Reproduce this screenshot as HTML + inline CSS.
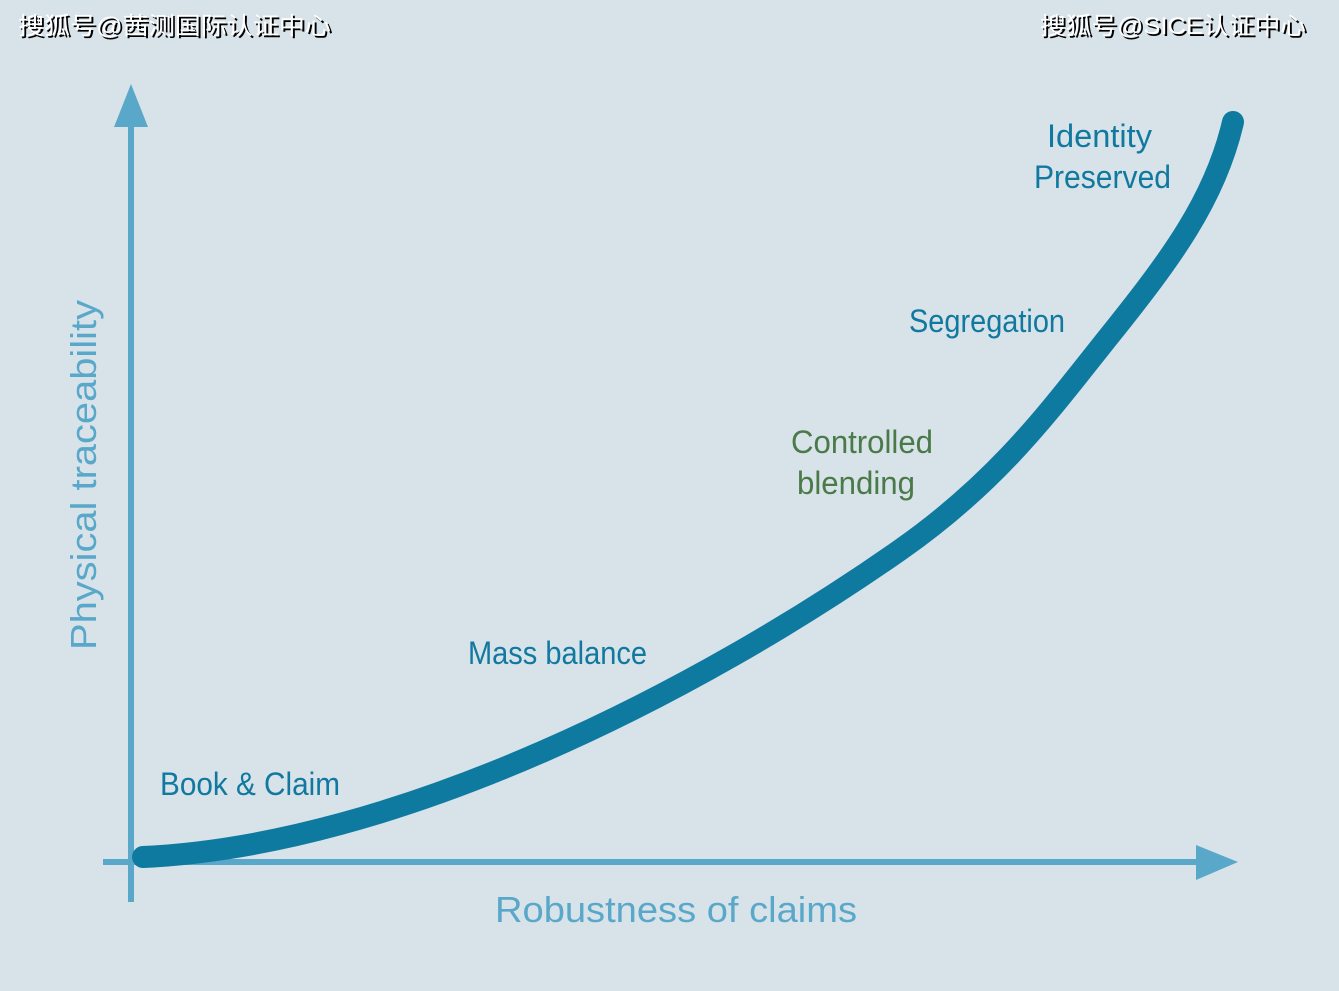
<!DOCTYPE html>
<html><head><meta charset="utf-8"><style>
html,body{margin:0;padding:0;background:#d7e2e9;}
svg{display:block}
.lbl{font-family:"Liberation Sans Narrow","Liberation Sans",sans-serif;font-size:32px;fill:#11799f;}
.wm{font-family:"Liberation Sans","Noto Sans CJK SC",sans-serif;font-size:24px;fill:#fff;}
</style></head><body>
<svg width="1339" height="991" viewBox="0 0 1339 991" xmlns="http://www.w3.org/2000/svg">
<rect width="1339" height="991" fill="#d7e2e9"/>
<g font-family="Liberation Sans, Noto Sans CJK SC, sans-serif">
<text class="wm" x="20" y="36" textLength="313" lengthAdjust="spacingAndGlyphs" style="fill:#000">搜狐号@茜测国际认证中心</text>
<text class="wm" x="18" y="34" textLength="313" lengthAdjust="spacingAndGlyphs">搜狐号@茜测国际认证中心</text>
<text class="wm" x="1042" y="36" textLength="266" lengthAdjust="spacingAndGlyphs" style="fill:#000">搜狐号@SICE认证中心</text>
<text class="wm" x="1040" y="34" textLength="266" lengthAdjust="spacingAndGlyphs">搜狐号@SICE认证中心</text>
</g>
<line x1="131" y1="902" x2="131" y2="120" stroke="#5aa8c9" stroke-width="6"/>
<polygon points="131,84 114,127 148,127" fill="#5aa8c9"/>
<line x1="103" y1="862" x2="1205" y2="862" stroke="#5aa8c9" stroke-width="6"/>
<polygon points="1238,862 1196,845 1196,880" fill="#5aa8c9"/>
<path d="M143,857 C400,845 700,690 900,550 C1000,480 1050,410 1110,335 C1170,260 1215,200 1233,122" fill="none" stroke="#0e7aa0" stroke-width="22" stroke-linecap="round"/>
<text class="lbl" x="160" y="795" textLength="180" lengthAdjust="spacingAndGlyphs">Book &amp; Claim</text>
<text class="lbl" x="468" y="664" textLength="179" lengthAdjust="spacingAndGlyphs">Mass balance</text>
<text class="lbl" x="791" y="453" textLength="142" lengthAdjust="spacingAndGlyphs" style="fill:#4a7a48">Controlled</text>
<text class="lbl" x="797" y="494" textLength="118" lengthAdjust="spacingAndGlyphs" style="fill:#4a7a48">blending</text>
<text class="lbl" x="909" y="332" textLength="156" lengthAdjust="spacingAndGlyphs">Segregation</text>
<text class="lbl" x="1047" y="147" textLength="105" lengthAdjust="spacingAndGlyphs">Identity</text>
<text class="lbl" x="1034" y="188" textLength="137" lengthAdjust="spacingAndGlyphs">Preserved</text>
<text x="495" y="922" font-family="Liberation Sans, sans-serif" font-size="36" fill="#5aa8c9" textLength="362" lengthAdjust="spacingAndGlyphs">Robustness of claims</text>
<text transform="translate(96,650) rotate(-90)" font-family="Liberation Sans, sans-serif" font-size="36" fill="#5aa8c9" textLength="350" lengthAdjust="spacingAndGlyphs">Physical traceability</text>
</svg>
</body></html>
